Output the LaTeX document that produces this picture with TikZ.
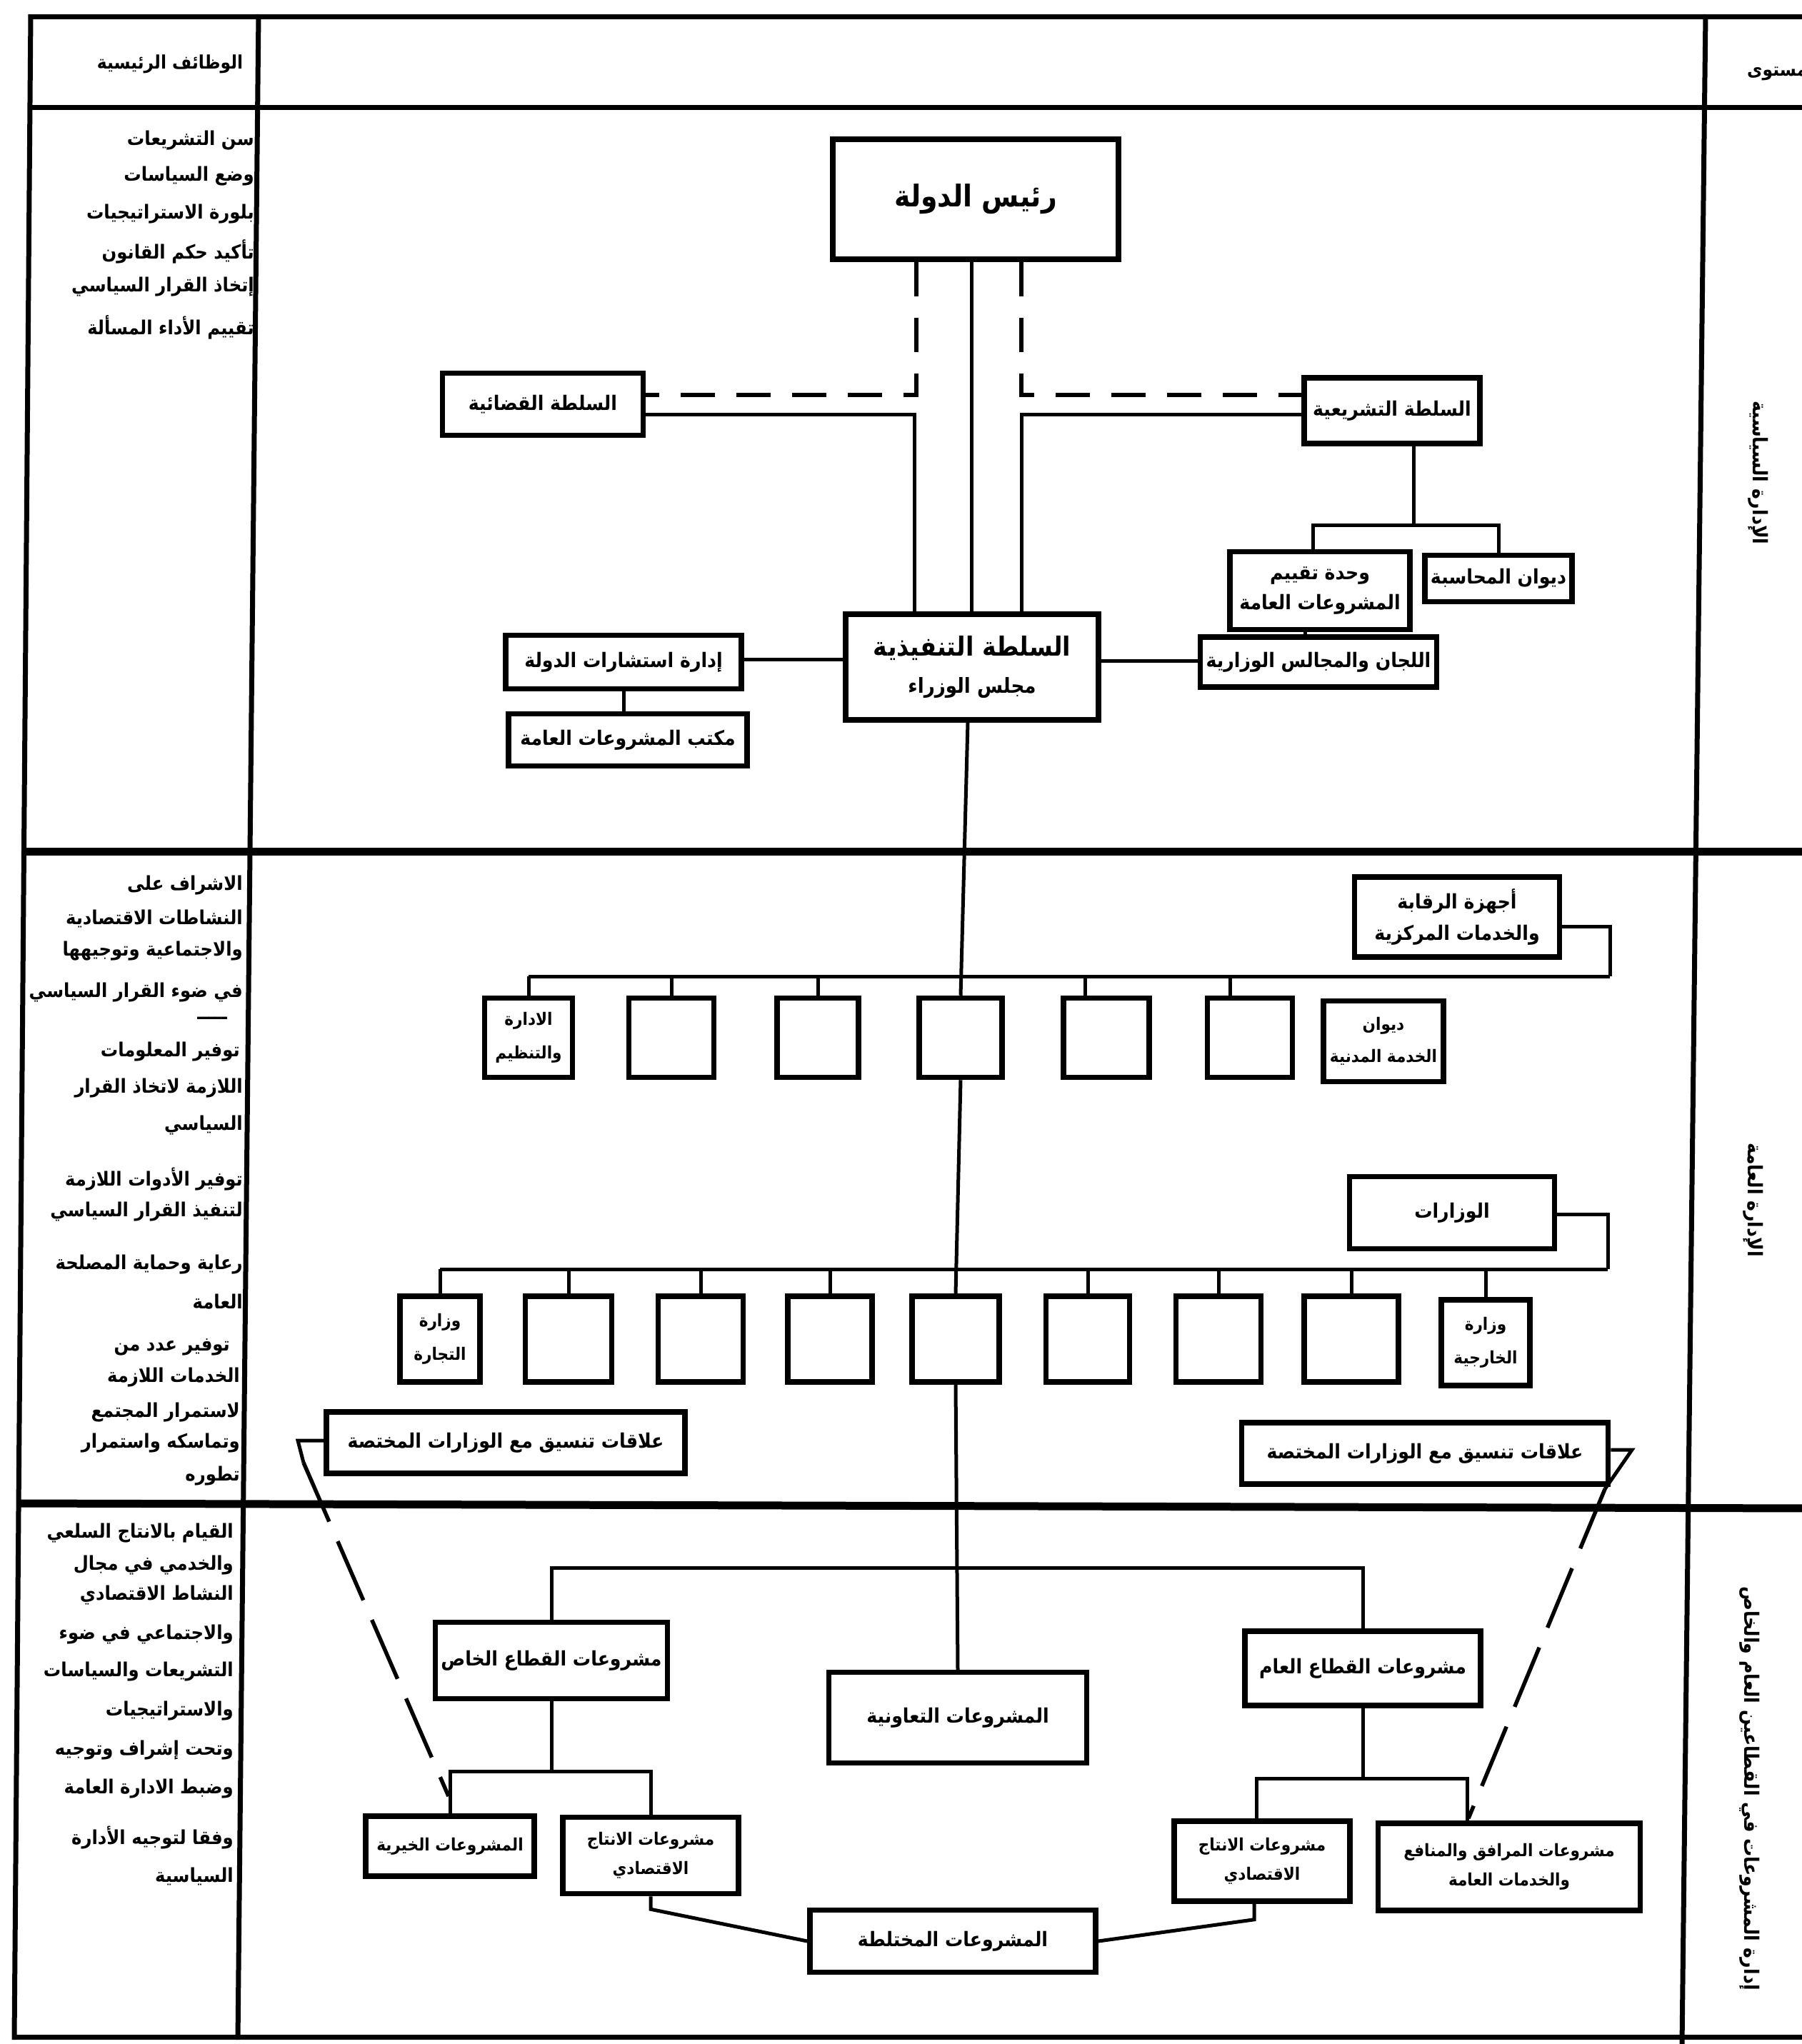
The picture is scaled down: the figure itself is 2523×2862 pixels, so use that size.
\documentclass[tikz,border=0pt]{standalone}
\usepackage{fontspec}
\TeXXeTstate=1
\newfontfamily\arabicfont[Script=Arabic, FakeStretch=0.9]{DejaVu Sans}
\newcommand{\ar}[1]{{\arabicfont\beginR #1\endR}}
\newcommand{\fs}[1]{\fontsize{#1}{#1}\selectfont}
\tikzset{
  box/.style={draw, line width=7.5pt, inner sep=0pt, align=center,
              font=\arabicfont\bfseries\fs{28}},
  conn/.style={line width=5pt},
  dashconn/.style={line width=5.5pt, dash pattern=on 48pt off 30pt},
  longdash/.style={line width=5.5pt, dash pattern=on 90pt off 30pt},
  framel/.style={line width=7pt},
  sepline/.style={line width=11pt},
  coltext/.style={anchor=east, inner sep=0pt, font=\arabicfont\bfseries\fs{27}},
  vtext/.style={rotate=-90, inner sep=0pt, font=\arabicfont\bfseries\fs{28}},
}
\begin{document}
\begin{tikzpicture}[x=1pt,y=-1pt]
\useasboundingbox (0,0) rectangle (2523,2862);

% ---------------- frame ----------------
\draw[framel] (43,23) -- (2540,23);
\draw[framel] (43,150) -- (2540,150);
\draw[framel] (43,20) -- (20,2856);
\draw[framel] (362,20) -- (333,2856);
\draw[framel] (2388,20) -- (2355,2862);
\draw[sepline] (37,1192) -- (2540,1192);
\draw[sepline] (28,2105) -- (2540,2112);
\draw[framel] (20,2852) -- (2540,2852);

% ---------------- header ----------------
\node[coltext, anchor=center, font=\arabicfont\bfseries\fs{26}] (hdrL) at (238,90) {\ar{الوظائف الرئيسية}};
\node[coltext, anchor=west, font=\arabicfont\bfseries\fs{26}] (hdrR) at (2446,100) {\ar{المستوى}};

% ---------------- left column texts ----------------
\node[coltext] (t11) at (356,197) {\ar{سن التشريعات}};
\node[coltext] (t12) at (356,247) {\ar{وضع السياسات}};
\node[coltext] (t13) at (356,300) {\ar{بلورة الاستراتيجيات}};
\node[coltext] (t14) at (356,352) {\ar{تأكيد حكم القانون}};
\node[coltext] (t15) at (356,402) {\ar{إتخاذ القرار السياسي}};
\node[coltext] (t16) at (356,458) {\ar{تقييم الأداء المسألة}};

\node[coltext] (t21) at (340,1240) {\ar{الاشراف على}};
\node[coltext] (t22) at (340,1286) {\ar{النشاطات الاقتصادية}};
\node[coltext] (t23) at (340,1332) {\ar{والاجتماعية وتوجيهها}};
\node[coltext] (t24) at (340,1390) {\ar{في ضوء القرار السياسي}};
\node[coltext] (t25) at (318,1426) {\ar{ـــــ}};
\node[coltext] (t26) at (336,1473) {\ar{توفير المعلومات}};
\node[coltext] (t27) at (340,1524) {\ar{اللازمة لاتخاذ القرار}};
\node[coltext] (t28) at (340,1576) {\ar{السياسي}};
\node[coltext] (t29) at (340,1651) {\ar{توفير الأدوات اللازمة}};
\node[coltext] (t210) at (340,1697) {\ar{لتنفيذ القرار السياسي}};
\node[coltext] (t211) at (340,1771) {\ar{رعاية وحماية المصلحة}};
\node[coltext] (t212) at (340,1823) {\ar{العامة}};
\node[coltext] (t213) at (322,1886) {\ar{توفير عدد من}};
\node[coltext] (t214) at (336,1929) {\ar{الخدمات اللازمة}};
\node[coltext] (t215) at (336,1978) {\ar{لاستمرار المجتمع}};
\node[coltext] (t216) at (336,2021) {\ar{وتماسكه واستمرار}};
\node[coltext] (t217) at (336,2067) {\ar{تطوره}};

\node[coltext] (t31) at (327,2147) {\ar{القيام بالانتاج السلعي}};
\node[coltext] (t32) at (327,2192) {\ar{والخدمي في مجال}};
\node[coltext] (t33) at (327,2234) {\ar{النشاط الاقتصادي}};
\node[coltext] (t34) at (327,2289) {\ar{والاجتماعي في ضوء}};
\node[coltext] (t35) at (327,2341) {\ar{التشريعات والسياسات}};
\node[coltext] (t36) at (327,2396) {\ar{والاستراتيجيات}};
\node[coltext] (t37) at (327,2451) {\ar{وتحت إشراف وتوجيه}};
\node[coltext] (t38) at (327,2505) {\ar{وضبط الادارة العامة}};
\node[coltext] (t39) at (327,2573) {\ar{وفقا لتوجيه الأدارة}};
\node[coltext] (t310) at (327,2627) {\ar{السياسية}};

% ---------------- right column texts ----------------
\node[vtext] (v1) at (2462,662) {\ar{الإدارة السياسية}};
\node[vtext] (v2) at (2455,1680) {\ar{الإدارة العامة}};
\node[vtext] (v3) at (2450,2504) {\ar{إدارة المشروعات في القطاعين العام والخاص}};

% ---------------- section 1 ----------------
\node[box, minimum width=400, minimum height=168, font=\arabicfont\bfseries\fs{42}] (head) at (1366,279) {\ar{رئيس الدولة}};
\node[box, minimum width=281, minimum height=87] (jud) at (760,566) {\ar{السلطة القضائية}};
\node[box, minimum width=246, minimum height=92] (leg) at (1949,575) {\ar{السلطة التشريعية}};
\node[box, minimum width=354, minimum height=148] (exec) at (1361,934)
  {{\fs{37}\ar{السلطة التنفيذية}}\\[22pt]{\fs{29}\ar{مجلس الوزراء}}};
\node[box, minimum width=252, minimum height=109] (eval) at (1848,827) {\ar{وحدة تقييم}\\[12pt]\ar{المشروعات العامة}};
\node[box, minimum width=206, minimum height=65] (audit) at (2098,810) {\ar{ديوان المحاسبة}};
\node[box, minimum width=331, minimum height=70] (comm) at (1846,927) {\ar{اللجان والمجالس الوزارية}};
\node[box, minimum width=330, minimum height=75] (cons) at (873,927) {\ar{إدارة استشارات الدولة}};
\node[box, minimum width=334, minimum height=73] (office) at (879,1036) {\ar{مكتب المشروعات العامة}};

\coordinate (dL) at (1283,553);
\coordinate (dR) at (1430,553);
\coordinate (sL) at (1280,580);
\coordinate (sR) at (1430,580);
\coordinate (xm) at (1360,0);
\draw[dashconn] (head.south -| dL) -- (dL) -- (jud.east |- dL);
\draw[dashconn] (head.south -| dR) -- (dR) -- (leg.west |- dR);
\draw[conn] (jud.east |- sL) -- (sL) -- (exec.north -| sL);
\draw[conn] (leg.west |- sR) -- (sR) -- (exec.north -| sR);
\draw[conn] (head.south -| xm) -- (exec.north -| xm);

\coordinate (b0) at (1979,735);
\draw[conn] (leg.south -| b0) -- (b0);
\draw[conn] (eval.north -| 1838,0) |- (b0) -| (audit.north);
\draw[conn] (eval.south -| 1827,0) -- (comm.north -| 1827,0);
\draw[conn] (exec.east |- 0,925) -- (comm.west |- 0,925);
\draw[conn] (exec.west |- 0,923) -- (cons.east |- 0,923);
\draw[conn] (cons.south) -- (office.north -| cons.south);

% ---------------- section 2 ----------------
\node[box, minimum width=287, minimum height=112] (ctrl) at (2040,1284) {\ar{أجهزة الرقابة}\\[14pt]\ar{والخدمات المركزية}};
\node[box, minimum width=123, minimum height=111, font=\arabicfont\bfseries\fs{24}] (a1) at (740,1453) {\ar{الادارة}\\[22pt]\ar{والتنظيم}};
\node[box, minimum width=119, minimum height=111] (a2) at (940,1453) {};
\node[box, minimum width=114, minimum height=111] (a3) at (1145,1453) {};
\node[box, minimum width=116, minimum height=111] (a4) at (1345,1453) {};
\node[box, minimum width=120, minimum height=111] (a5) at (1549,1453) {};
\node[box, minimum width=119, minimum height=111] (a6) at (1750,1453) {};
\node[box, minimum width=168, minimum height=113, font=\arabicfont\bfseries\fs{24}] (a7) at (1937,1458) {\ar{ديوان}\\[20pt]\ar{الخدمة المدنية}};

\coordinate (b1) at (2254,1367);
\draw[conn] (a1.north |- b1) -- (b1);
\draw[conn] (ctrl.east |- 0,1297) -| (b1);
\draw[conn] (a1.north |- b1) -- (a1.north);
\draw[conn] (a2.north |- b1) -- (a2.north);
\draw[conn] (a3.north |- b1) -- (a3.north);
\draw[conn] ([xshift=-30pt]a5.north |- b1) -- ([xshift=-30pt]a5.north);
\draw[conn] ([xshift=-28pt]a6.north |- b1) -- ([xshift=-28pt]a6.north);
\draw[conn] (exec.south -| 1355,0) -- (a4.north);

\node[box, minimum width=287, minimum height=101] (mins) at (2033,1698) {\ar{الوزارات}};
\node[box, minimum width=112, minimum height=120, font=\arabicfont\bfseries\fs{24}] (m1) at (616,1875) {\ar{وزارة}\\[22pt]\ar{التجارة}};
\node[box, minimum width=121, minimum height=120] (m2) at (796,1875) {};
\node[box, minimum width=119, minimum height=120] (m3) at (981,1875) {};
\node[box, minimum width=118, minimum height=120] (m4) at (1162,1875) {};
\node[box, minimum width=122, minimum height=120] (m5) at (1338,1875) {};
\node[box, minimum width=117, minimum height=120] (m6) at (1523,1875) {};
\node[box, minimum width=119, minimum height=120] (m7) at (1706,1875) {};
\node[box, minimum width=132, minimum height=120] (m8) at (1892,1875) {};
\node[box, minimum width=124, minimum height=120, font=\arabicfont\bfseries\fs{24}] (m9) at (2080,1880) {\ar{وزارة}\\[22pt]\ar{الخارجية}};

\coordinate (b2) at (2251,1777);
\draw[conn] (m1.north |- b2) -- (b2);
\draw[conn] (mins.east |- 0,1700) -| (b2);
\foreach \m in {m1,m2,m3,m4,m6,m7,m8,m9}{
  \draw[conn] (\m.north |- b2) -- (\m.north);
}
\draw[conn] (a4.south) -- (m5.north);

\node[box, minimum width=502, minimum height=86] (coordL) at (708,2020) {\ar{علاقات تنسيق مع الوزارات المختصة}};
\node[box, minimum width=513, minimum height=86] (coordR) at (1995,2035) {\ar{علاقات تنسيق مع الوزارات المختصة}};

% ---------------- section 3 ----------------
\node[box, minimum width=325, minimum height=107] (priv) at (772,2325) {\ar{مشروعات القطاع الخاص}};
\node[box, minimum width=361, minimum height=127] (coop) at (1341,2405) {\ar{المشروعات التعاونية}};
\node[box, minimum width=330, minimum height=104] (pub) at (1908,2336) {\ar{مشروعات القطاع العام}};
\node[box, minimum width=236, minimum height=84, font=\arabicfont\bfseries\fs{24}] (charity) at (630,2585) {\ar{المشروعات الخيرية}};
\node[box, minimum width=246, minimum height=107, font=\arabicfont\bfseries\fs{24}] (prodL) at (911,2598) {\ar{مشروعات الانتاج}\\[16pt]\ar{الاقتصادي}};
\node[box, minimum width=246, minimum height=112, font=\arabicfont\bfseries\fs{24}] (prodR) at (1767,2606) {\ar{مشروعات الانتاج}\\[16pt]\ar{الاقتصادي}};
\node[box, minimum width=367, minimum height=122, font=\arabicfont\bfseries\fs{24}] (util) at (2113,2614) {\ar{مشروعات المرافق والمنافع}\\[16pt]\ar{والخدمات العامة}};
\node[box, minimum width=400, minimum height=87] (mixed) at (1334,2718) {\ar{المشروعات المختلطة}};

\coordinate (b3) at (0,2195);
\draw[conn] (m5.south) -- (coop.north);
\draw[conn] (priv.north) -- (priv.north |- b3) -- (pub.north |- b3) -- (pub.north);
\coordinate (b4) at (0,2480);
\draw[conn] (priv.south) -- (priv.south |- b4);
\draw[conn] (charity.north) -- (charity.north |- b4) -- (prodL.north |- b4) -- (prodL.north);
\coordinate (b5) at (0,2490);
\draw[conn] (pub.south) -- (pub.south |- b5);
\draw[conn] ([xshift=-8pt]prodR.north) -- ([xshift=-8pt]prodR.north |- b5) -- ([xshift=-59pt]util.north |- b5) -- ([xshift=-59pt]util.north);
\draw[conn] (prodL.south) -- ++(0,18) -- (mixed.west);
\draw[conn] ([xshift=-11pt]prodR.south) -- ++(0,22) -- (mixed.east);

% coordination dashed links
\coordinate (cl1) at (417,2017);
\coordinate (cl2) at (425,2048);
\coordinate (cl3) at (628,2515);
\draw[conn] (coordL.west |- cl1) -- (cl1) -- (cl2);
\draw[longdash] (cl2) -- (cl3);
\coordinate (cr1) at (2285,2030);
\coordinate (cr2) at (2247,2085);
\coordinate (cr3) at (2056,2546);
\draw[conn] (coordR.east |- cr1) -- (cr1) -- (cr2);
\draw[longdash] (cr2) -- (cr3);
\end{tikzpicture}
\end{document}
